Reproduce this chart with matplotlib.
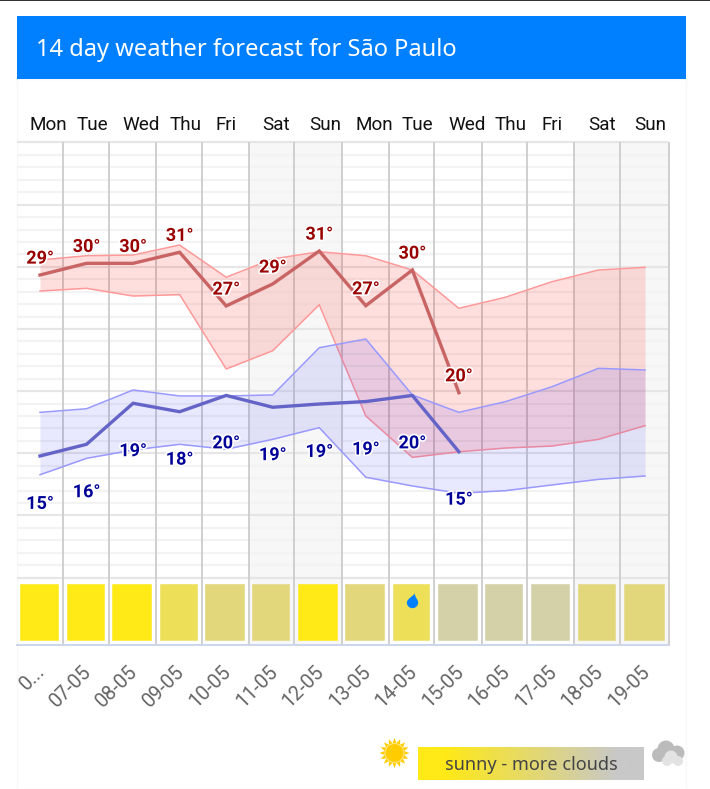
import numpy as np
import matplotlib
matplotlib.use("Agg")
import matplotlib.pyplot as plt
import matplotlib.patheffects as pe
from matplotlib.colors import LinearSegmentedColormap
from matplotlib.path import Path
from matplotlib.patches import Circle, Polygon, Rectangle
from matplotlib.transforms import ScaledTranslation

W, H = 710, 789

# Data
days = ["Mon", "Tue", "Wed", "Thu", "Fri", "Sat", "Sun",
        "Mon", "Tue", "Wed", "Thu", "Fri", "Sat", "Sun"]
dates = ["0...", "07-05", "08-05", "09-05", "10-05", "11-05", "12-05",
         "13-05", "14-05", "15-05", "16-05", "17-05", "18-05", "19-05"]
max_line = [29.34, 30.28, 30.28, 31.17, 26.85, 28.62, 31.27, 26.87, 29.74, 19.87]
min_line = [14.78, 15.72, 19.02, 18.34, 19.65, 18.70, 18.96, 19.16, 19.65, 15.12]
max_labels = [29, 30, 30, 31, 27, 29, 31, 27, 30, 20]
min_labels = [15, 16, 19, 18, 20, 19, 19, 19, 20, 15]
max_high = [30.55, 30.89, 30.95, 31.75, 29.16, 30.63, 31.21,
            30.89, 29.74, 26.66, 27.55, 28.80, 29.74, 29.96]
max_low = [28.05, 28.27, 27.65, 27.76, 21.78, 23.25, 26.95,
           18.00, 14.67, 15.12, 15.42, 15.58, 16.12, 17.22]
min_high = [18.29, 18.58, 20.09, 19.61, 19.61, 19.69, 23.49,
            24.19, 19.69, 18.29, 19.15, 20.35, 21.83, 21.70]
min_low = [13.27, 14.59, 15.26, 15.72, 15.32, 16.12, 17.06,
           13.07, 12.37, 11.78, 11.99, 12.45, 12.90, 13.17]
sky_colors = ["#FFE916", "#FFE916", "#FFE916", "#EDDF58", "#E3D77B", "#E3D77B", "#FFE916",
              "#E3D77B", "#EDDF58", "#D4D1A9", "#D4D1A9", "#D4D1A9", "#E3D77B", "#E3D77B"]
rain = [0, 0, 0, 0, 0, 0, 0, 0, 1, 0, 0, 0, 0, 0]
weekend = [0, 0, 0, 0, 0, 1, 1, 0, 0, 0, 0, 0, 1, 1]
# day boundaries, the chart does not space them quite evenly
day_edges = [-0.5, 0.501, 1.476, 2.492, 3.474, 4.484, 5.464, 6.483,
             7.499, 8.472, 9.491, 10.47, 11.48, 12.46, 13.515]

x = np.arange(len(days))

plt.rcParams["font.family"] = ["Roboto", "DejaVu Sans"]
fig = plt.figure(figsize=(W / 100, H / 100), dpi=100)

# page furniture, in pixel coordinates
bg = fig.add_axes([0, 0, 1, 1], zorder=0)
bg.set_xlim(0, W)
bg.set_ylim(H, 0)
bg.axis("off")
bg.add_patch(Rectangle((0, 0), W, 1, color="#333333", lw=0))
bg.add_patch(Rectangle((17, 79), 669, H - 79, fc="white", ec="#f8f8f8", lw=1))
bg.add_patch(Rectangle((17, 16), 669, 63, color="#0080FF", lw=0))
bg.text(36, 56, "14 day weather forecast for São Paulo", color="white", fontsize=17.05,
        family="Noto Sans", va="baseline", ha="left")

# legend gradient
grad = LinearSegmentedColormap.from_list("sky", [(0, "#FFE916"), (0.12, "#FFE916"),
                                                (0.88, "#C8C8C8"), (1, "#C8C8C8")])
bg.imshow(np.linspace(0, 1, 256).reshape(1, -1), cmap=grad, aspect="auto",
          extent=(418, 644, 780, 747), zorder=2)
bg.set_xlim(0, W)
bg.set_ylim(H, 0)
bg.text(531, 765, "sunny - more clouds", color="#444444", fontsize=13, family="Noto Sans",
        va="center", ha="center", zorder=3)

# sun icon
ang = np.linspace(0, 2 * np.pi, 33)[:-1]
rad = np.where(np.arange(32) % 2 == 0, 15, 10)
bg.add_patch(Polygon(np.c_[394.5 + rad * np.cos(ang), 753 + rad * np.sin(ang)],
                     color="#FFCC00", lw=0, zorder=2))
bg.add_patch(Circle((394.5, 753), 9.5, fc="#FFCC00", ec="#FFE680", lw=0.8, zorder=3))

# cloud icon
for cx, cy, r, c in [(666, 749, 8.5, "#BBBBBB"), (659, 755, 7, "#BBBBBB"), (677, 753, 7.5, "#BBBBBB"),
                     (671, 757, 6.5, "#E3E3E3"), (667, 761, 5, "#E3E3E3"), (678, 761, 5, "#E3E3E3")]:
    bg.add_patch(Circle((cx, cy), r, color=c, lw=0, zorder=2))

# main chart
ax = fig.add_axes([16.73 / W, 1 - 644.5 / H, 651.6 / W, 502 / H], zorder=1)
ax.patch.set_alpha(0)
ax.set_xlim(-0.5, 13.5)
ax.set_ylim(40 - 502 / 12.43, 40)
for s in ["left", "right", "top"]:
    ax.spines[s].set_visible(False)
ax.spines["bottom"].set_color("#CCD6EB")
ax.spines["bottom"].set_linewidth(1.4)

for k, flag in enumerate(weekend):
    if flag:
        ax.axvspan(day_edges[k], day_edges[k + 1], color="#F7F7F7", lw=0, zorder=0)

for t in range(5, 41):
    major = t % 5 == 0
    ax.plot([-0.5, 13.5], [t, t], color="#E6E6E6" if major else "#F3F3F3",
            lw=1.6 if major else 1.5, zorder=1, solid_capstyle="butt", clip_on=False)
for e in day_edges[1:]:
    ax.axvline(e, color="#CFCFCF", lw=1.4, zorder=1.5, clip_on=False)

ax.fill_between(x, max_low, max_high, color="#FF0000", alpha=0.13, lw=0, zorder=2)
ax.plot(x, max_high, color="#FF9999", lw=1.1, zorder=2.1)
ax.plot(x, max_low, color="#FF9999", lw=1.1, zorder=2.1)
ax.fill_between(x, min_low, min_high, color="#0000FF", alpha=0.09, lw=0, zorder=2.2)
ax.plot(x, min_high, color="#9999FF", lw=1.1, zorder=2.3)
ax.plot(x, min_low, color="#9999FF", lw=1.1, zorder=2.3)

ax.plot(x[:len(max_line)], max_line, color="#C86464", lw=2.4, zorder=3, solid_joinstyle="miter")
ax.plot(x[:len(min_line)], min_line, color="#6464C8", lw=2.4, zorder=3, solid_joinstyle="miter")

halo = [pe.withStroke(linewidth=2.4, foreground="white")]
for k, v in enumerate(max_labels):
    ax.annotate(f"{v}°", (k, max_line[k]), xytext=(0, 11.8), textcoords="offset points",
                ha="center", va="center", color="#990000", fontsize=13, fontweight="bold",
                path_effects=halo, zorder=5)
for k, v in enumerate(min_labels):
    ax.annotate(f"{v}°", (k, min_line[k]), xytext=(0, -34.5), textcoords="offset points",
                ha="center", va="center", color="#000099", fontsize=13, fontweight="bold",
                path_effects=halo, zorder=5)

# sky condition blocks
lefts = np.array(day_edges[:-1]) + 0.08
rights = np.array(day_edges[1:]) - 0.105
bars = ax.bar(lefts, 4.5, width=rights - lefts, align="edge", color=sky_colors,
              edgecolor=sky_colors, lw=0.4, zorder=4)
for b in bars:
    b.set_joinstyle("round")

drop = Path([(0, -1), (0.6, -1), (1, -0.55), (1, 0), (1, 0.55), (0.45, 0.8), (0.4, 1.6),
             (0.1, 1.1), (-1, 0.6), (-1, 0), (-1, -0.55), (-0.6, -1), (0, -1)],
            [Path.MOVETO] + [Path.CURVE4] * 12)
rx = [k for k, r in enumerate(rain) if r]
ax.scatter(rx, [3.0] * len(rx), marker=drop, s=170, color="#0080FF", lw=0, zorder=5)

# day names on top, left aligned
for k, d in enumerate(days):
    ax.annotate(d, (k, 40), xytext=(-7.5, 8.8), textcoords="offset points", ha="left",
                va="baseline", color="#111111", fontsize=13.6)

ax.set_yticks([])
ax.set_xticks(x)
ax.set_xticklabels(dates, rotation=45, ha="right", rotation_mode="anchor",
                   color="#666666", fontsize=14.3)
ax.tick_params(axis="x", length=0, pad=14)
shift = ScaledTranslation(-3.5 / 72, 1.5 / 72, fig.dpi_scale_trans)
for lab in ax.get_xticklabels():
    lab.set_transform(lab.get_transform() + shift)

fig.savefig("out.png", dpi=100)
